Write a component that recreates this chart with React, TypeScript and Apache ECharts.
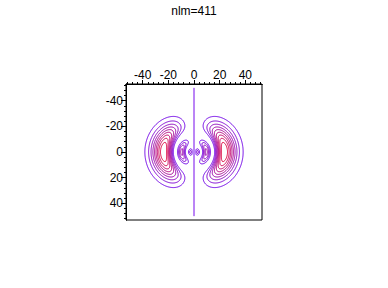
import React, { useEffect, useRef } from "react";
import * as echarts from "echarts";

// ---- data ----
const TITLE = "nlm=411";
const X_TICKS = [-40, -20, 0, 20, 40];
const Y_TICKS = [-40, -20, 0, 20, 40];
const X_MINOR = [-52, -48, -44, -36, -32, -28, -24, -16, -12, -8, -4, 4, 8, 12, 16, 24, 28, 32, 36, 44, 48, 52];
const Y_MINOR = [-52, -48, -44, -36, -32, -28, -24, -16, -12, -8, -4, 4, 8, 12, 16, 24, 28, 32, 36, 44, 48, 52];
const AXIS_MIN = -53;
const AXIS_MAX = 53;
const DOMAIN_MIN = -50;
const DOMAIN_MAX = 50;
const GRID_CELLS = 200;
// hydrogen n=4, l=1 radial polynomial: 1 - r/4 + r^2/80, decay e^{-r/4}
const RADIAL_COEFFS = [1, -1 / 4, 1 / 80];
const RADIAL_DECAY = 1 / 4;
// contour levels as fractions of the maximum
const LEVEL_FRACTIONS = [0.1, 0.2, 0.3, 0.4, 0.5, 0.6, 0.7, 0.8, 0.9];
const NODAL_LINE = [[0, -50], [0, 50]];

const COLOR_LOW = [112, 0, 232];
const COLOR_HIGH = [220, 0, 60];

function levelColor(t: number) {
  const c = COLOR_LOW.map((v, k) => Math.round(v + (COLOR_HIGH[k] - v) * t));
  return `rgb(${c[0]},${c[1]},${c[2]})`;
}

function fieldValue(x: number, y: number) {
  const r = Math.hypot(x, y);
  let p = 0;
  for (let k = RADIAL_COEFFS.length - 1; k >= 0; k--) p = p * r + RADIAL_COEFFS[k];
  const R = r * p * Math.exp(-RADIAL_DECAY * r);
  const v = x * R;
  return v * v;
}

const EDGE_TABLE: number[][][] = [
  [], [[3, 0]], [[0, 1]], [[3, 1]], [[1, 2]], [[3, 0], [1, 2]], [[0, 2]], [[3, 2]],
  [[2, 3]], [[0, 2]], [[0, 1], [2, 3]], [[1, 2]], [[1, 3]], [[0, 1]], [[0, 3]], [],
];

function buildContours() {
  const n = GRID_CELLS;
  const W = n + 1;
  const step = (DOMAIN_MAX - DOMAIN_MIN) / n;
  const vals = new Float64Array(W * W);
  let max = 0;
  for (let j = 0; j <= n; j++) {
    for (let i = 0; i <= n; i++) {
      const v = fieldValue(DOMAIN_MIN + i * step, DOMAIN_MIN + j * step);
      vals[j * W + i] = v;
      if (v > max) max = v;
    }
  }
  return LEVEL_FRACTIONS.map((f) => {
    const L = f * max;
    const adj = new Map<number, number[]>();
    const pos = new Map<number, number[]>();
    const link = (a: number, b: number) => {
      if (!adj.has(a)) adj.set(a, []);
      if (!adj.has(b)) adj.set(b, []);
      adj.get(a)!.push(b);
      adj.get(b)!.push(a);
    };
    for (let j = 0; j < n; j++) {
      for (let i = 0; i < n; i++) {
        const x0 = DOMAIN_MIN + i * step;
        const y0 = DOMAIN_MIN + j * step;
        const va = vals[j * W + i];
        const vb = vals[j * W + i + 1];
        const vc = vals[(j + 1) * W + i + 1];
        const vd = vals[(j + 1) * W + i];
        const idx = (va > L ? 1 : 0) | (vb > L ? 2 : 0) | (vc > L ? 4 : 0) | (vd > L ? 8 : 0);
        const segs = EDGE_TABLE[idx];
        if (!segs.length) continue;
        const key = (e: number) => {
          let k: number;
          let p: number[];
          if (e === 0) { k = j * W + i; p = [x0 + step * (L - va) / (vb - va), y0]; }
          else if (e === 2) { k = (j + 1) * W + i; p = [x0 + step * (L - vd) / (vc - vd), y0 + step]; }
          else if (e === 1) { k = W * W + j * W + i + 1; p = [x0 + step, y0 + step * (L - vb) / (vc - vb)]; }
          else { k = W * W + j * W + i; p = [x0, y0 + step * (L - va) / (vd - va)]; }
          if (!pos.has(k)) pos.set(k, p);
          return k;
        };
        for (const s of segs) link(key(s[0]), key(s[1]));
      }
    }
    const chains: number[][][] = [];
    const walk = (start: number) => {
      const chain = [pos.get(start)!];
      let cur = start;
      while (true) {
        const nb = adj.get(cur)!;
        if (!nb.length) break;
        const nxt = nb.pop()!;
        const back = adj.get(nxt)!;
        const bi = back.indexOf(cur);
        if (bi >= 0) back.splice(bi, 1);
        chain.push(pos.get(nxt)!);
        cur = nxt;
      }
      if (chain.length > 1) chains.push(chain);
    };
    for (const [k, nb] of adj) if (nb.length === 1) walk(k);
    for (const [k, nb] of adj) if (nb.length > 0) walk(k);
    return chains;
  });
}

const FONT = "Liberation Sans, Arial, sans-serif";
const GRID_RECT = { left: 126, top: 84, width: 136, height: 136 };

export default function App() {
  const ref = useRef<HTMLDivElement>(null);
  useEffect(() => {
    if (!ref.current) return;
    const chart = echarts.init(ref.current, undefined, { renderer: "svg" });
    const contours = buildContours();
    const nLev = LEVEL_FRACTIONS.length;
    const series: any[] = contours.map((chains, k) => ({
      type: "lines",
      coordinateSystem: "cartesian2d",
      xAxisIndex: 0,
      yAxisIndex: 0,
      polyline: true,
      large: false,
      progressive: 0,
      silent: true,
      z: 3,
      data: chains.map((c) => ({ coords: c })),
      lineStyle: { width: 1, opacity: 1, color: levelColor(nLev > 1 ? k / (nLev - 1) : 0) },
    }));
    series.push({
      type: "lines",
      coordinateSystem: "cartesian2d",
      xAxisIndex: 0,
      yAxisIndex: 0,
      polyline: true,
      large: false,
      progressive: 0,
      silent: true,
      z: 4,
      data: [{ coords: NODAL_LINE }],
      lineStyle: { width: 1, opacity: 1, color: "rgb(118,10,236)" },
    });
    const axisCommon = {
      type: "value",
      min: AXIS_MIN,
      max: AXIS_MAX,
      splitLine: { show: false },
      axisLine: { show: true, onZero: false, lineStyle: { color: "#000", width: 1 } },
    };
    chart.setOption({
      animation: false,
      title: {
        text: TITLE,
        left: "center",
        top: 0,
        textStyle: { fontSize: 12, fontWeight: "normal", color: "#000", fontFamily: FONT },
      },
      grid: [
        { ...GRID_RECT, show: true, borderColor: "#000", borderWidth: 1, outerBoundsMode: "none" },
        { ...GRID_RECT, show: false, outerBoundsMode: "none" },
      ],
      xAxis: [
        {
          ...axisCommon,
          gridIndex: 0,
          position: "top",
          axisTick: { show: true, length: 4, customValues: X_TICKS, lineStyle: { color: "#000" } },
          axisLabel: { customValues: X_TICKS, fontSize: 12, color: "#000", fontFamily: FONT, margin: 3 },
        },
        {
          ...axisCommon,
          gridIndex: 1,
          position: "top",
          axisTick: { show: true, length: 2, customValues: X_MINOR, lineStyle: { color: "#000" } },
          axisLabel: { show: false },
        },
      ],
      yAxis: [
        {
          ...axisCommon,
          gridIndex: 0,
          inverse: true,
          position: "left",
          axisTick: { show: true, length: 5, customValues: Y_TICKS, lineStyle: { color: "#000" } },
          axisLabel: { customValues: Y_TICKS, fontSize: 12, color: "#000", fontFamily: FONT, margin: 3 },
        },
        {
          ...axisCommon,
          gridIndex: 1,
          inverse: true,
          position: "left",
          axisTick: { show: true, length: 2, customValues: Y_MINOR, lineStyle: { color: "#000" } },
          axisLabel: { show: false },
        },
      ],
      series,
    });
    return () => chart.dispose();
  }, []);
  return (
    <div
      ref={ref}
      style={{ position: "fixed", left: 0, top: 0, width: 388, height: 288, background: "#fff" }}
    />
  );
}
